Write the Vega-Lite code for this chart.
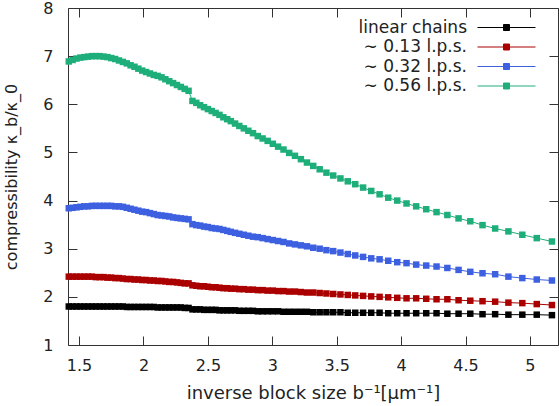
{
  "$schema": "https://vega.github.io/schema/vega-lite/v6.json",
  "width": 490,
  "height": 337,
  "autosize": {"type": "none"},
  "padding": {"left": 68, "top": 8, "right": 1, "bottom": 61},
  "background": "white",
  "config": {
    "font": "DejaVu Sans",
    "view": {"stroke": "#333333", "strokeWidth": 1},
    "axis": {
      "domain": false,
      "ticks": false,
      "tickSize": 0,
      "grid": true,
      "gridColor": "#333333",
      "gridWidth": 1,
      "gridOpacity": 1,
      "labelColor": "#222222",
      "labelFontSize": 16,
      "labelFont": "DejaVu Sans",
      "titleColor": "#222222",
      "titleFontSize": 17,
      "titleFont": "DejaVu Sans",
      "titleFontWeight": "normal"
    }
  },
  "data": {
    "values": [
      {"x": 1.42, "l": 1.80, "r": 2.42, "u": 3.84, "g": 6.89},
      {"x": 1.45, "l": 1.80, "r": 2.42, "u": 3.85, "g": 6.92},
      {"x": 1.48, "l": 1.80, "r": 2.42, "u": 3.86, "g": 6.95},
      {"x": 1.51, "l": 1.80, "r": 2.42, "u": 3.87, "g": 6.97},
      {"x": 1.54, "l": 1.80, "r": 2.42, "u": 3.88, "g": 6.98},
      {"x": 1.57, "l": 1.80, "r": 2.42, "u": 3.88, "g": 6.99},
      {"x": 1.60, "l": 1.80, "r": 2.42, "u": 3.89, "g": 7.00},
      {"x": 1.63, "l": 1.80, "r": 2.41, "u": 3.89, "g": 7.00},
      {"x": 1.66, "l": 1.80, "r": 2.41, "u": 3.89, "g": 7.00},
      {"x": 1.69, "l": 1.80, "r": 2.41, "u": 3.89, "g": 6.99},
      {"x": 1.72, "l": 1.80, "r": 2.40, "u": 3.89, "g": 6.98},
      {"x": 1.75, "l": 1.80, "r": 2.40, "u": 3.89, "g": 6.96},
      {"x": 1.78, "l": 1.80, "r": 2.39, "u": 3.88, "g": 6.94},
      {"x": 1.81, "l": 1.80, "r": 2.39, "u": 3.88, "g": 6.91},
      {"x": 1.84, "l": 1.80, "r": 2.38, "u": 3.87, "g": 6.88},
      {"x": 1.87, "l": 1.79, "r": 2.37, "u": 3.85, "g": 6.85},
      {"x": 1.90, "l": 1.79, "r": 2.37, "u": 3.83, "g": 6.81},
      {"x": 1.93, "l": 1.79, "r": 2.36, "u": 3.81, "g": 6.78},
      {"x": 1.96, "l": 1.79, "r": 2.36, "u": 3.79, "g": 6.74},
      {"x": 1.99, "l": 1.79, "r": 2.35, "u": 3.77, "g": 6.70},
      {"x": 2.02, "l": 1.79, "r": 2.35, "u": 3.76, "g": 6.67},
      {"x": 2.05, "l": 1.79, "r": 2.34, "u": 3.74, "g": 6.64},
      {"x": 2.08, "l": 1.79, "r": 2.34, "u": 3.72, "g": 6.61},
      {"x": 2.11, "l": 1.78, "r": 2.33, "u": 3.70, "g": 6.59},
      {"x": 2.14, "l": 1.78, "r": 2.33, "u": 3.69, "g": 6.56},
      {"x": 2.17, "l": 1.78, "r": 2.32, "u": 3.68, "g": 6.52},
      {"x": 2.20, "l": 1.78, "r": 2.31, "u": 3.67, "g": 6.48},
      {"x": 2.23, "l": 1.78, "r": 2.31, "u": 3.65, "g": 6.44},
      {"x": 2.26, "l": 1.78, "r": 2.30, "u": 3.64, "g": 6.40},
      {"x": 2.29, "l": 1.78, "r": 2.29, "u": 3.63, "g": 6.36},
      {"x": 2.32, "l": 1.77, "r": 2.28, "u": 3.62, "g": 6.32},
      {"x": 2.35, "l": 1.77, "r": 2.28, "u": 3.61, "g": 6.28},
      {"x": 2.38, "l": 1.74, "r": 2.24, "u": 3.51, "g": 6.07},
      {"x": 2.41, "l": 1.74, "r": 2.23, "u": 3.49, "g": 6.03},
      {"x": 2.44, "l": 1.74, "r": 2.22, "u": 3.48, "g": 5.98},
      {"x": 2.47, "l": 1.73, "r": 2.22, "u": 3.46, "g": 5.94},
      {"x": 2.50, "l": 1.73, "r": 2.21, "u": 3.45, "g": 5.90},
      {"x": 2.53, "l": 1.73, "r": 2.20, "u": 3.43, "g": 5.86},
      {"x": 2.56, "l": 1.73, "r": 2.20, "u": 3.42, "g": 5.82},
      {"x": 2.59, "l": 1.72, "r": 2.19, "u": 3.41, "g": 5.78},
      {"x": 2.62, "l": 1.72, "r": 2.18, "u": 3.39, "g": 5.73},
      {"x": 2.65, "l": 1.72, "r": 2.18, "u": 3.37, "g": 5.69},
      {"x": 2.678, "l": 1.72, "r": 2.17, "u": 3.35, "g": 5.65},
      {"x": 2.711, "l": 1.72, "r": 2.17, "u": 3.33, "g": 5.60},
      {"x": 2.744, "l": 1.71, "r": 2.16, "u": 3.31, "g": 5.55},
      {"x": 2.779, "l": 1.71, "r": 2.16, "u": 3.29, "g": 5.50},
      {"x": 2.814, "l": 1.71, "r": 2.15, "u": 3.27, "g": 5.45},
      {"x": 2.850, "l": 1.71, "r": 2.15, "u": 3.25, "g": 5.40},
      {"x": 2.887, "l": 1.70, "r": 2.14, "u": 3.24, "g": 5.34},
      {"x": 2.925, "l": 1.70, "r": 2.14, "u": 3.22, "g": 5.29},
      {"x": 2.964, "l": 1.70, "r": 2.13, "u": 3.20, "g": 5.24},
      {"x": 3.004, "l": 1.70, "r": 2.13, "u": 3.18, "g": 5.18},
      {"x": 3.045, "l": 1.70, "r": 2.12, "u": 3.16, "g": 5.12},
      {"x": 3.087, "l": 1.69, "r": 2.12, "u": 3.14, "g": 5.06},
      {"x": 3.131, "l": 1.69, "r": 2.11, "u": 3.11, "g": 4.99},
      {"x": 3.176, "l": 1.69, "r": 2.11, "u": 3.09, "g": 4.93},
      {"x": 3.222, "l": 1.69, "r": 2.10, "u": 3.07, "g": 4.86},
      {"x": 3.269, "l": 1.69, "r": 2.09, "u": 3.05, "g": 4.79},
      {"x": 3.318, "l": 1.68, "r": 2.09, "u": 3.02, "g": 4.72},
      {"x": 3.368, "l": 1.68, "r": 2.08, "u": 3.00, "g": 4.65},
      {"x": 3.420, "l": 1.68, "r": 2.07, "u": 2.97, "g": 4.58},
      {"x": 3.473, "l": 1.68, "r": 2.06, "u": 2.95, "g": 4.52},
      {"x": 3.529, "l": 1.68, "r": 2.05, "u": 2.92, "g": 4.46},
      {"x": 3.586, "l": 1.67, "r": 2.04, "u": 2.89, "g": 4.40},
      {"x": 3.644, "l": 1.67, "r": 2.03, "u": 2.86, "g": 4.34},
      {"x": 3.705, "l": 1.67, "r": 2.02, "u": 2.83, "g": 4.27},
      {"x": 3.768, "l": 1.67, "r": 2.01, "u": 2.80, "g": 4.20},
      {"x": 3.833, "l": 1.67, "r": 2.00, "u": 2.78, "g": 4.13},
      {"x": 3.900, "l": 1.66, "r": 1.99, "u": 2.75, "g": 4.06},
      {"x": 3.970, "l": 1.66, "r": 1.98, "u": 2.72, "g": 4.00},
      {"x": 4.042, "l": 1.66, "r": 1.97, "u": 2.70, "g": 3.94},
      {"x": 4.117, "l": 1.66, "r": 1.97, "u": 2.67, "g": 3.88},
      {"x": 4.195, "l": 1.66, "r": 1.96, "u": 2.65, "g": 3.82},
      {"x": 4.275, "l": 1.66, "r": 1.95, "u": 2.63, "g": 3.76},
      {"x": 4.359, "l": 1.65, "r": 1.95, "u": 2.60, "g": 3.70},
      {"x": 4.446, "l": 1.65, "r": 1.93, "u": 2.56, "g": 3.63},
      {"x": 4.537, "l": 1.65, "r": 1.92, "u": 2.52, "g": 3.57},
      {"x": 4.632, "l": 1.64, "r": 1.91, "u": 2.49, "g": 3.49},
      {"x": 4.730, "l": 1.64, "r": 1.90, "u": 2.47, "g": 3.42},
      {"x": 4.833, "l": 1.63, "r": 1.88, "u": 2.42, "g": 3.36},
      {"x": 4.941, "l": 1.63, "r": 1.87, "u": 2.39, "g": 3.29},
      {"x": 5.053, "l": 1.63, "r": 1.85, "u": 2.36, "g": 3.22},
      {"x": 5.171, "l": 1.62, "r": 1.83, "u": 2.34, "g": 3.15}
    ]
  },
  "transform": [{"fold": ["l", "r", "u", "g"], "as": ["series", "value"]}],
  "mark": {
    "type": "line",
    "strokeWidth": 1,
    "point": {"shape": "square", "size": 42, "filled": true, "opacity": 1}
  },
  "encoding": {
    "x": {
      "field": "x",
      "type": "quantitative",
      "scale": {"domain": [1.414, 5.218], "nice": false, "zero": false},
      "axis": {
        "orient": "bottom",
        "values": [1.5, 2, 2.5, 3, 3.5, 4, 4.5, 5],
        "format": "~g",
        "gridDash": [9, 319],
        "labelPadding": 12,
        "title": "inverse block size b⁻¹[μm⁻¹]",
        "titleFontSize": 18,
        "titlePadding": 11
      }
    },
    "y": {
      "field": "value",
      "type": "quantitative",
      "scale": {"domain": [1, 8], "nice": false, "zero": false},
      "axis": {
        "orient": "left",
        "values": [1, 2, 3, 4, 5, 6, 7, 8],
        "format": "d",
        "gridDash": [9, 472],
        "labelPadding": 15,
        "title": "compressibility κ_b/κ_0",
        "titleFontSize": 16,
        "titlePadding": 23
      }
    },
    "color": {
      "field": "series",
      "type": "nominal",
      "scale": {
        "domain": ["l", "r", "u", "g"],
        "range": ["#000000", "#aa0000", "#3d60e0", "#1eae7a"]
      },
      "legend": {
        "orient": "none",
        "legendX": 428,
        "legendY": 9,
        "title": null,
        "padding": 0,
        "symbolType": "M-2.9,0H2.9M-0.3,-0.3H0.3V0.3H-0.3Z",
        "symbolSize": 400,
        "symbolStrokeWidth": 1,
        "labelAlign": "right",
        "labelOffset": -50,
        "labelFontSize": 17,
        "labelFont": "DejaVu Sans",
        "labelColor": "#222222",
        "rowPadding": 0.5,
        "labelExpr": "datum.value == 'l' ? 'linear chains' : datum.value == 'r' ? '∼ 0.13 l.p.s.' : datum.value == 'u' ? '∼ 0.32 l.p.s.' : '∼ 0.56 l.p.s.'",
        "encode": {
          "symbols": {
            "update": {
              "fill": {"scale": "color", "field": "value"},
              "stroke": {"scale": "color", "field": "value"},
              "opacity": {"value": 1}
            }
          }
        }
      }
    }
  }
}
